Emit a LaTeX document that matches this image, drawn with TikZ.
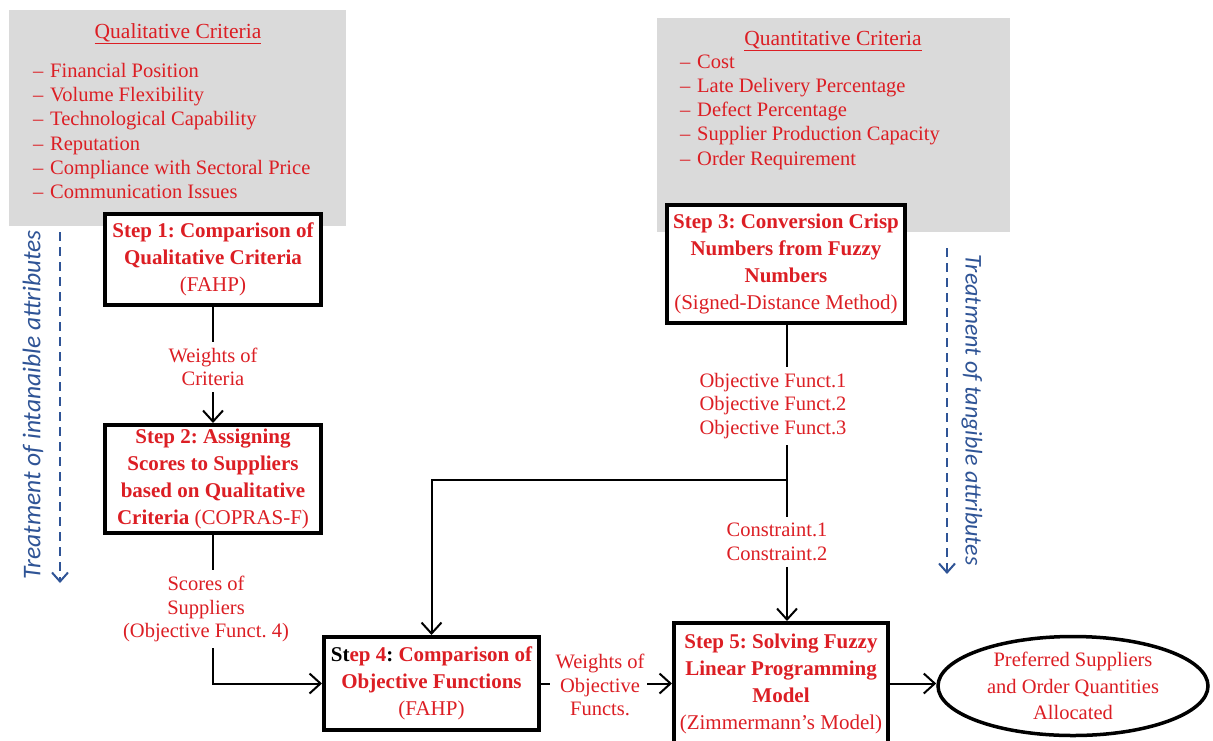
\documentclass[tikz,border=0pt]{standalone}
\usepackage{fontspec}
\setmainfont{Liberation Serif}
\newfontfamily\calib{Carlito}
\usetikzlibrary{arrows.meta,shapes.geometric}
\definecolor{rd}{RGB}{220,30,36}
\definecolor{bl}{RGB}{47,84,150}
\definecolor{gr}{RGB}{218,218,218}
\newcommand{\mk}{\makebox[17pt][l]{–}}
\frenchspacing
\tikzset{
  stepbox/.style={draw, line width=4pt, fill=white, align=center, text=rd, inner sep=0pt,
    font=\fontsize{21}{27}\selectfont},
  lbl/.style={text=rd, align=center, inner xsep=2pt, inner ysep=6pt, font=\fontsize{20.5}{23.5}\selectfont},
  lst/.style={text=rd, align=left, inner sep=0pt, font=\fontsize{20.5}{24.2}\selectfont},
  ttl/.style={text=rd, inner sep=0pt, font=\fontsize{21.5}{26}\selectfont},
  conn/.style={line width=2pt},
  arr/.style={line width=2pt, -{Straight Barb[length=11pt,width=20pt]}},
  dsh/.style={line width=2pt, draw=bl, dash pattern=on 9pt off 6pt, -{Straight Barb[length=9pt,width=16pt]}},
  rot/.style={text=bl, inner sep=0pt, font=\calib\itshape}
}
\begin{document}
\begin{tikzpicture}[x=1pt,y=-1pt]
\clip (0,0) rectangle (1213,740);
\fill[white] (0,0) rectangle (1213,740);
\fill[gr] (9,10) rectangle (346,226);
\fill[gr] (657,18) rectangle (1010,232);

\node[ttl] (qlt) at (178,34) {\underline{Qualitative Criteria}};
\node[lst, anchor=west] (qll) at (33,131) {\mk Financial Position\\\mk Volume Flexibility\\\mk Technological Capability\\\mk Reputation\\\mk Compliance with Sectoral Price\\\mk Communication Issues};

\node[ttl] (qnt) at (833,41) {\underline{Quantitative Criteria}};
\node[lst, anchor=west] (qnl) at (680,112) {\mk Cost\\\mk Late Delivery Percentage\\\mk Defect Percentage\\\mk Supplier Production Capacity\\\mk Order Requirement};

\node[stepbox, minimum width=216pt, minimum height=91pt] (s1) at (213,259.5)
  {\bfseries Step 1: Comparison of\\\bfseries Qualitative Criteria\\(FAHP)};
\node[stepbox, minimum width=216pt, minimum height=108pt] (s2) at (213,479)
  {\bfseries Step 2: Assigning\\\bfseries Scores to Suppliers\\\bfseries based on Qualitative\\\textbf{Criteria} (COPRAS-F)};
\node[stepbox, minimum width=238pt, minimum height=118pt] (s3) at (786,264)
  {\bfseries Step 3: Conversion Crisp\\\bfseries Numbers from Fuzzy\\\bfseries Numbers\\(Signed-Distance Method)};
\node[stepbox, minimum width=215pt, minimum height=93pt] (s4) at (431.5,683.5)
  {\bfseries\textcolor{black}{St}ep 4\textcolor{black}{:} Comparison of\\\bfseries Objective Functions\\(FAHP)};
\node[stepbox, minimum width=214pt, minimum height=122pt] (s5) at (781,684)
  {\bfseries Step 5: Solving Fuzzy\\\bfseries Linear Programming\\\bfseries Model\\(Zimmermann's Model)};
\node[draw, ellipse, line width=3.5pt, fill=white, text=rd, align=center, inner sep=0pt,
  minimum width=270pt, minimum height=99pt, font=\fontsize{20.5}{26.5}\selectfont] (el) at (1073,686)
  {Preferred Suppliers\\and Order Quantities\\Allocated};

\node[lbl] (w1) at (213,367) {Weights of\\Criteria};
\node[lbl] (sc) at (206,609) {Scores of\\Suppliers\\(Objective Funct. 4)};
\node[lbl] (of) at (773,406) {Objective Funct.1\\Objective Funct.2\\Objective Funct.3};
\node[lbl] (cn) at (777,542) {Constraint.1\\Constraint.2};
\node[lbl] (wo) at (600,685) {Weights of\\Objective\\Functs.};

\coordinate (j) at (787,480);

\draw[conn] (s1) -- (w1);
\draw[arr] (w1) -- (s2);
\draw[conn] (s2.south) -- (s2.south |- sc.north);
\draw[arr] (s2.south |- sc.south) |- (s4.west);
\draw[conn] (s3.south -| j) -- (j |- of.north);
\draw[conn] (j |- of.south) -- (j);
\draw[arr] (j) -| (s4.north);
\draw[conn] (j) -- (j |- cn.north);
\draw[arr] (j |- cn.south) -- (j |- s5.north);
\draw[conn] (s4.east) -- ++(9,0);
\draw[arr] ([xshift=-25pt]s4.east -| s5.west) -- (s4.east -| s5.west);
\draw[arr] (s4.east -| s5.east) -- (s4.east -| el.west);

\coordinate (la) at (60,232);
\coordinate (lb) at (60,583);
\coordinate (ra) at (947,248);
\coordinate (rb) at (947,574);
\draw[dsh] (la) -- (lb);
\draw[dsh] (ra) -- (rb);
\node[rot, rotate=90, font=\calib\itshape\fontsize{25.5}{28}\selectfont] (tl) at (33,405) {Treatment of intanaible attributes};
\node[rot, rotate=-90, font=\calib\itshape\fontsize{24}{27}\selectfont] (tr) at (972,410) {Treatment of tangible attributes};
\end{tikzpicture}
\end{document}
